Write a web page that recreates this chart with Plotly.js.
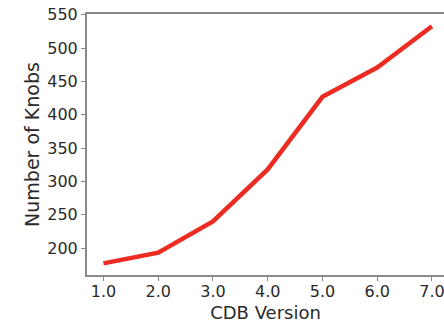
<!DOCTYPE html>
<html>
<head>
<meta charset="utf-8">
<script src="https://cdn.plot.ly/plotly-3.0.1.min.js"></script>
<style>html,body{margin:0;padding:0;background:#fff;overflow:hidden;}</style>
</head>
<body>
<div id="chart" style="width:444px;height:323px;"></div>
<script>
const versions = [1.0, 2.0, 3.0, 4.0, 5.0, 6.0, 7.0];
const knobs = [177, 193, 240, 318, 427, 471, 533];
const yTicks = [200, 250, 300, 350, 400, 450, 500, 550];

const axisColor = '#8a8a8a';
const textColor = '#2a2a2a';
const fontFamily = 'DejaVu Sans, sans-serif';

Plotly.newPlot('chart', [{
  x: versions,
  y: knobs,
  type: 'scatter',
  mode: 'lines',
  line: {color: '#ec2b22', width: 4.5},
  hoverinfo: 'none'
}], {
  width: 444,
  height: 323,
  margin: {l: 87, r: 0, t: 14, b: 48, pad: 0},
  paper_bgcolor: '#ffffff',
  plot_bgcolor: '#ffffff',
  showlegend: false,
  font: {family: fontFamily, color: textColor, size: 16},
  xaxis: {
    range: [0.7, 7.22],
    tickvals: versions,
    tickformat: '.1f',
    showgrid: false,
    zeroline: false,
    showline: true,
    linecolor: axisColor,
    linewidth: 2,
    mirror: true,
    ticks: 'outside',
    ticklen: 4,
    tickwidth: 1,
    tickcolor: axisColor,
    ticklabeloverflow: 'allow',
    ticklabelstandoff: -3,
    tickfont: {family: fontFamily, size: 16, color: textColor},
    title: {text: 'CDB Version', font: {family: fontFamily, size: 18, color: textColor}, standoff: 6}
  },
  yaxis: {
    range: [159.5, 551.3],
    tickvals: yTicks,
    showgrid: false,
    zeroline: false,
    showline: true,
    linecolor: axisColor,
    linewidth: 2,
    mirror: false,
    ticks: 'outside',
    ticklen: 4,
    tickwidth: 1,
    tickcolor: axisColor,
    tickfont: {family: fontFamily, size: 16, color: textColor},
    title: {text: 'Number of Knobs', font: {family: fontFamily, size: 19, color: textColor}, standoff: 3}
  }
}, {staticPlot: true, displayModeBar: false});
</script>
</body>
</html>
